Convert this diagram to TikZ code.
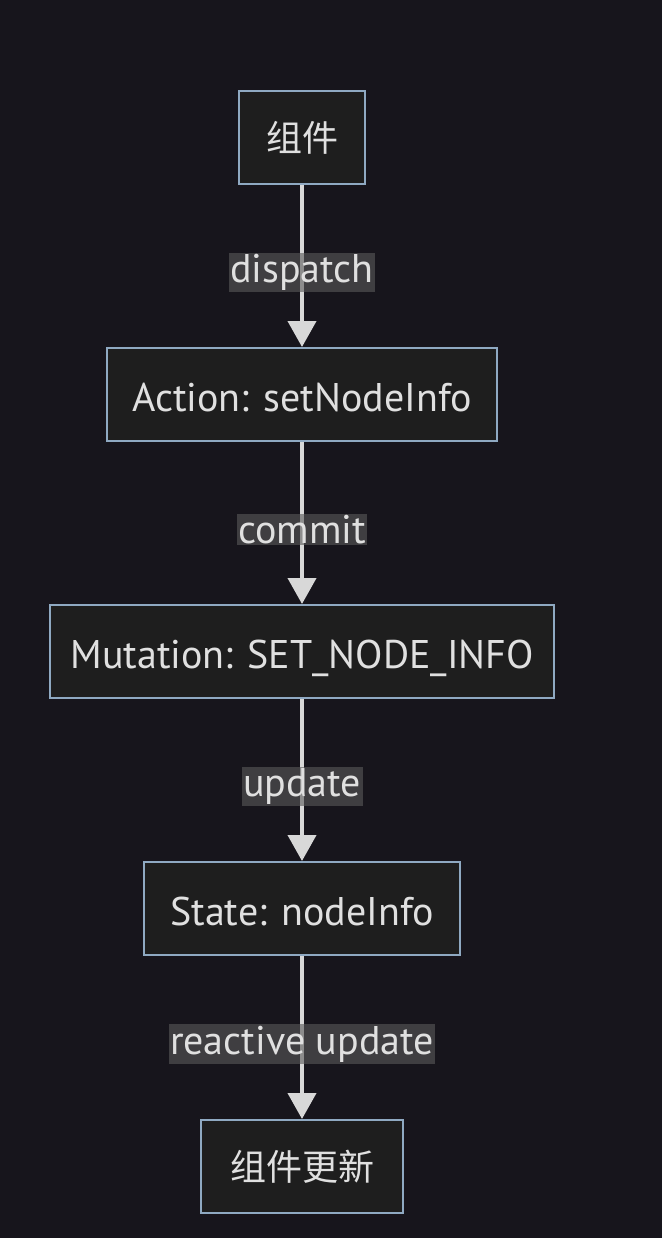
\documentclass[tikz,border=0pt]{standalone}
\usepackage{fontspec}
\setmainfont{PT Sans}
\newfontfamily\cjk{Noto Sans CJK SC}
\usetikzlibrary{arrows.meta}
\definecolor{bgc}{HTML}{17151C}
\definecolor{boxfill}{HTML}{1E1E1E}
\definecolor{boxline}{HTML}{8FA9C2}
\definecolor{txt}{HTML}{E0E0E0}
\definecolor{edgec}{HTML}{D8D8D8}
\definecolor{lblbg}{HTML}{5A5A5A}
\tikzset{
  boxbase/.style={draw=boxline, line width=2pt, fill=boxfill, text=txt, minimum height=93pt, inner sep=0pt},
  box/.style={boxbase, text height=35pt, text depth=2pt, font=\fontsize{40}{46}\selectfont},
  cjkbox/.style={boxbase, font=\cjk\fontsize{36}{42}\selectfont},
  flow/.style={draw=edgec, line width=4pt, -{Triangle[length=26pt,width=28pt]}},
  lbl/.style={fill=lblbg, fill opacity=0.6, text opacity=1, text=txt, inner sep=1.5pt, font=\fontsize{40}{46}\selectfont}
}
\begin{document}
\begin{tikzpicture}[x=1pt,y=-1pt]
\useasboundingbox[fill=bgc] (0,0) rectangle (662,1238);
\node[cjkbox, minimum width=126pt] (n1) at (302,137.5) {组件};
\node[box, minimum width=390pt] (n2) at (302,394.5) {Action: setNodeInfo};
\node[box, minimum width=504pt] (n3) at (302,651.5) {Mutation: SET\_NODE\_INFO};
\node[box, minimum width=316pt] (n4) at (302,908.5) {State: nodeInfo};
\node[cjkbox, minimum width=202pt] (n5) at (302,1166.5) {组件更新};
\draw[flow] (n1) -- node[lbl, pos=0.54]{dispatch} (n2);
\draw[flow] (n2) -- node[lbl, pos=0.54]{commit} (n3);
\draw[flow] (n3) -- node[lbl, pos=0.54]{update} (n4);
\draw[flow] (n4) -- node[lbl, pos=0.54]{reactive update} (n5);
\end{tikzpicture}
\end{document}
